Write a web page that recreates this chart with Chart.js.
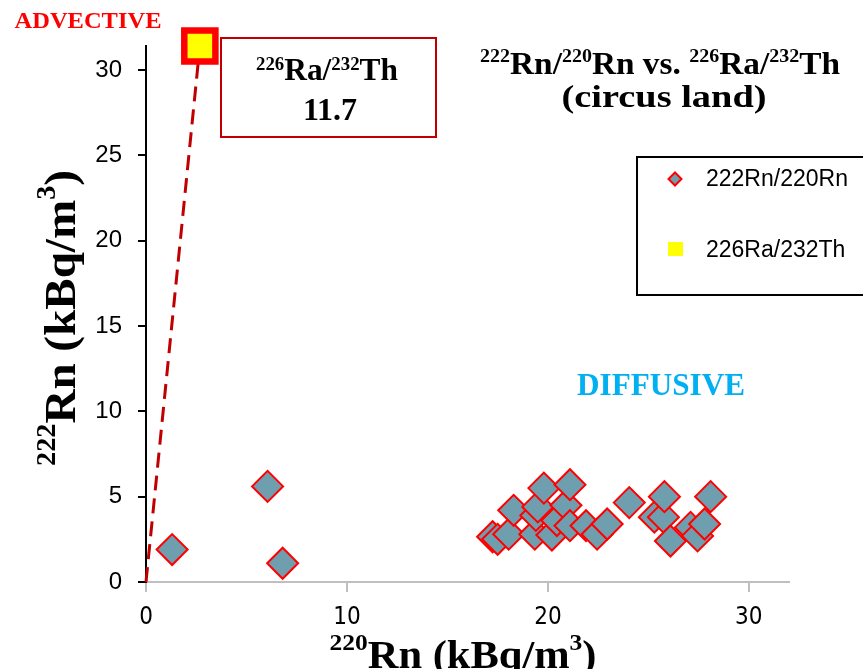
<!DOCTYPE html>
<html>
<head>
<meta charset="utf-8">
<script src="https://cdn.jsdelivr.net/npm/chart.js@4.4.1/dist/chart.umd.min.js"></script>
<style>
  html, body { margin: 0; padding: 0; background: #fff; }
</style>
</head>
<body>
<canvas id="chart" width="863" height="669"></canvas>
<script>
// 220Rn (x) and 222Rn (y) in kBq/m3
const rn220 = [1.3, 6.05, 6.8, 17.25, 17.5, 18.05, 18.3, 19.35, 19.4, 19.5, 19.8, 20.2, 20.45, 20.9,
               21.1, 21.1, 21.9, 22.45, 22.95, 24.05, 25.3, 25.75, 25.8, 26.1, 27.1, 27.45, 27.8, 28.1];
const rn222 = [1.9, 5.6, 1.1, 2.65, 2.5, 2.8, 4.2, 2.8, 3.9, 4.4, 5.5, 2.75, 3.6, 4.5,
               5.7, 3.3, 3.3, 2.8, 3.4, 4.65, 3.8, 3.8, 5.0, 2.4, 3.2, 2.7, 3.4, 5.0];
// 226Ra/232Th reference point (slope 11.7 from the origin)
const raX = [2.68];
const raY = [31.4];
const ratioText = '11.7';
// tick labels
const xTicks = [0, 10, 20, 30];
const yTicks = [0, 5, 10, 15, 20, 25, 30];

const SERIF = '"Liberation Serif", "Times New Roman", serif';
const SANS = '"Liberation Sans", Arial, sans-serif';
const NARROW = '"Liberation Sans Narrow", "DejaVu Sans Condensed", sans-serif';
const TEAL = '#6f9faf';

// measure a run of text with superscript pieces
function richWidth(ctx, segs, size, sup) {
  let w = 0;
  segs.forEach(([t, s]) => {
    ctx.font = 'bold ' + (s ? size * sup : size) + 'px ' + SERIF;
    w += ctx.measureText(t).width;
  });
  return w;
}

// draw centred rich text, optionally squeezed to a target width and rotated
function drawRich(ctx, segs, o) {
  const sup = o.sup || 0.6;
  ctx.save();
  ctx.translate(o.x, o.y);
  if (o.rotate) ctx.rotate(o.rotate);
  const nat = richWidth(ctx, segs, o.size, sup);
  ctx.scale(o.width ? o.width / nat : 1, 1);
  ctx.fillStyle = o.color || '#000';
  ctx.textAlign = 'left';
  ctx.textBaseline = 'alphabetic';
  let cx = -nat / 2;
  segs.forEach(([t, s]) => {
    ctx.font = 'bold ' + (s ? o.size * sup : o.size) + 'px ' + SERIF;
    ctx.fillText(t, cx, s ? -o.size * (o.raise || 0.38) : 0);
    cx += ctx.measureText(t).width;
  });
  ctx.restore();
}

const annotations = {
  id: 'annotations',
  afterDraw(chart) {
    const ctx = chart.ctx;

    // title
    drawRich(ctx, [['222', 1], ['Rn/', 0], ['220', 1], ['Rn vs. ', 0], ['226', 1], ['Ra/', 0], ['232', 1], ['Th', 0]],
      {x: 660, y: 74, size: 32, width: 360});
    drawRich(ctx, [['(circus land)', 0]], {x: 664, y: 107, size: 32, width: 205});

    // ratio box
    ctx.save();
    ctx.strokeStyle = '#c00000';
    ctx.lineWidth = 2;
    ctx.strokeRect(221, 38, 215, 99);
    ctx.restore();
    drawRich(ctx, [['226', 1], ['Ra/', 0], ['232', 1], ['Th', 0]], {x: 327, y: 80, size: 31, width: 142, raise: 0.32});
    drawRich(ctx, [[ratioText, 0]], {x: 330, y: 120, size: 32});

    // region labels
    drawRich(ctx, [['ADVECTIVE', 0]], {x: 88, y: 28, size: 24, width: 147, color: '#ff0000'});
    drawRich(ctx, [['DIFFUSIVE', 0]], {x: 661, y: 395, size: 31, width: 168, color: '#00b0f0'});

    // axis titles
    drawRich(ctx, [['220', 1], ['Rn (kBq/m', 0], ['3', 1], [')', 0]],
      {x: 463, y: 668, size: 40, width: 267, raise: 0.45});
    drawRich(ctx, [['222', 1], ['Rn (kBq/m', 0], ['3', 1], [')', 0]],
      {x: 75, y: 318, size: 45, width: 296, raise: 0.45, rotate: -Math.PI / 2});

    // legend
    ctx.save();
    ctx.strokeStyle = '#000';
    ctx.lineWidth = 2;
    ctx.strokeRect(637, 157, 240, 138);
    ctx.beginPath();
    ctx.moveTo(668.5, 179); ctx.lineTo(675, 172.5); ctx.lineTo(681.5, 179); ctx.lineTo(675, 185.5);
    ctx.closePath();
    ctx.fillStyle = TEAL; ctx.fill();
    ctx.strokeStyle = '#ff0000'; ctx.lineWidth = 2; ctx.stroke();
    ctx.fillStyle = '#ffff00';
    ctx.fillRect(668, 242, 15, 14);
    ctx.fillStyle = '#000';
    ctx.font = '23px ' + SANS;
    ctx.textBaseline = 'alphabetic';
    ctx.fillText('222Rn/220Rn', 706, 186);
    ctx.fillText('226Ra/232Th', 706, 257);
    ctx.restore();
  }
};

const points = rn220.map((x, i) => ({x: x, y: rn222[i]}));

new Chart(document.getElementById('chart'), {
  type: 'scatter',
  data: {
    datasets: [
      {label: '226Ra/232Th',
       data: raX.map((x, i) => ({x: x, y: raY[i]})),
       pointStyle: 'rect',
       pointRadius: 22,
       backgroundColor: '#ffff00',
       borderColor: '#ff0000',
       borderWidth: 6.5,
       clip: false
      },
      {label: '222Rn/220Rn',
       data: points,
       pointStyle: 'rectRot',
       pointRadius: 15.5,
       backgroundColor: TEAL,
       borderColor: '#ff0000',
       borderWidth: 2,
       clip: false
      },
      {label: 'slope',
       data: [{x: 0, y: 0}, {x: raX[0], y: raY[0]}],
       showLine: true,
       borderColor: '#c00000',
       borderDash: [15, 8],
       borderWidth: 3,
       pointRadius: 0,
       clip: false
      }
    ]
  },
  options: {
    responsive: false,
    animation: false,
    devicePixelRatio: 1,
    events: [],
    layout: {padding: {top: 46, right: 74, left: 0, bottom: 0}},
    plugins: {
      legend: {display: false},
      tooltip: {enabled: false}
    },
    scales: {
      x: {
        type: 'linear',
        min: 0,
        max: 32,
        afterFit: s => { s.height = 87; },
        afterBuildTicks: s => { s.ticks = xTicks.map(v => ({value: v})); },
        grid: {drawOnChartArea: false, drawTicks: true, tickLength: 10, color: '#bfbfbf', lineWidth: 2},
        border: {color: '#bfbfbf', width: 2},
        ticks: {color: '#000', padding: 11, font: {family: NARROW, size: 24}}
      },
      y: {
        type: 'linear',
        min: 0,
        max: 31.4,
        afterFit: s => { s.width = 146; },
        afterBuildTicks: s => { s.ticks = yTicks.map(v => ({value: v})); },
        grid: {drawOnChartArea: false, drawTicks: true, tickLength: 8, color: '#000', lineWidth: 2},
        border: {color: '#000', width: 2},
        ticks: {color: '#000', padding: 16, font: {family: SANS, size: 24}}
      }
    }
  },
  plugins: [annotations]
});
</script>
</body>
</html>
